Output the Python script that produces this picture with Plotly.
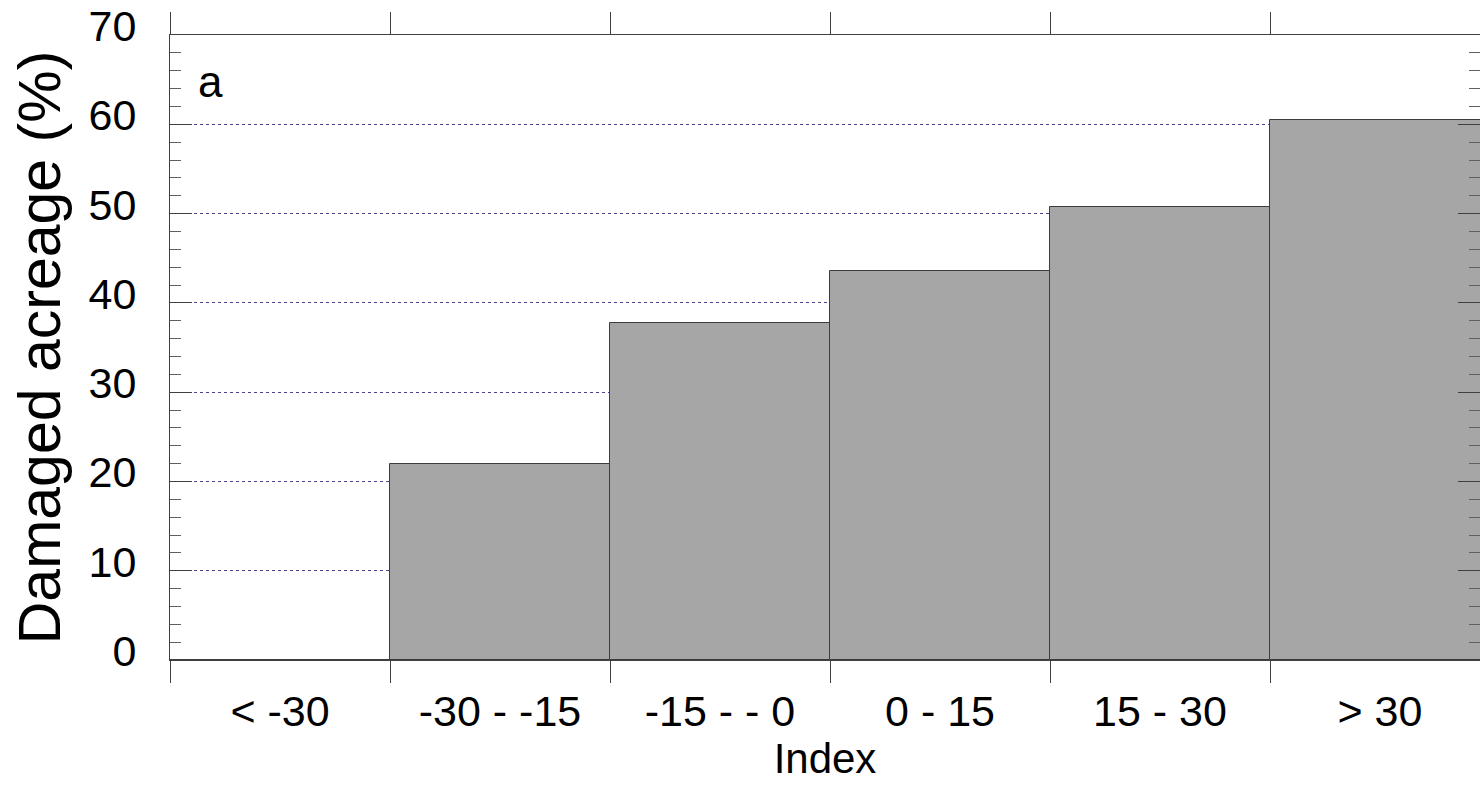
import plotly.graph_objects as go

categories = ["< -30", "-30 - -15", "-15 - - 0", "0 - 15", "15 - 30", "> 30"]
damaged = [0, 22.0, 37.7, 43.6, 50.7, 60.5]
y_ticks = [0, 10, 20, 30, 40, 50, 60, 70]

FONT = "Liberation Sans, Arial, sans-serif"
AX = "#404040"

fig = go.Figure()
fig.add_trace(go.Bar(
    x=categories, y=damaged, width=1.0,
    marker=dict(color="#A6A6A6", line=dict(color="#3c3c3c", width=1)),
    showlegend=False,
))

fig.update_layout(
    width=1480, height=787,
    margin=dict(l=170, r=0, t=35, b=127),
    paper_bgcolor="white", plot_bgcolor="white",
    font=dict(family=FONT, color="black"),
    bargap=0,
    xaxis=dict(
        type="category",
        range=[-0.5, -0.5 + 1310 / 220],
        tickson="boundaries",
        ticks="outside", ticklen=22, tickwidth=1, tickcolor=AX,
        showline=True, linecolor=AX, linewidth=1, mirror="ticks",
        showgrid=False, zeroline=False,
        tickfont=dict(size=43, family=FONT, color="black"),
        ticklabelstandoff=13,
        title=dict(text="Index", font=dict(size=42, family=FONT, color="black"), standoff=0),
    ),
    yaxis=dict(
        range=[0, 70],
        tickvals=y_ticks,
        ticks="inside", ticklen=22, tickwidth=1, tickcolor=AX,
        minor=dict(dtick=2, ticks="inside", ticklen=11, tickcolor="#606060", showgrid=False),
        showline=True, linecolor=AX, linewidth=1, mirror="ticks",
        showgrid=True, gridcolor="#4a4290", griddash="dot", gridwidth=1,
        zeroline=False,
        tickfont=dict(size=43, family=FONT, color="black"),
        ticklabelstandoff=24,
        ticklabelshift=-9,
        title=dict(text="Damaged acreage (%)", font=dict(size=59, family=FONT, color="black"), standoff=8),
    ),
    annotations=[dict(
        text="a", xref="paper", yref="paper", x=0.02, y=0.925,
        xanchor="left", yanchor="middle", showarrow=False,
        font=dict(size=44, family=FONT, color="black"),
    )],
)

fig.write_html("out.html")
